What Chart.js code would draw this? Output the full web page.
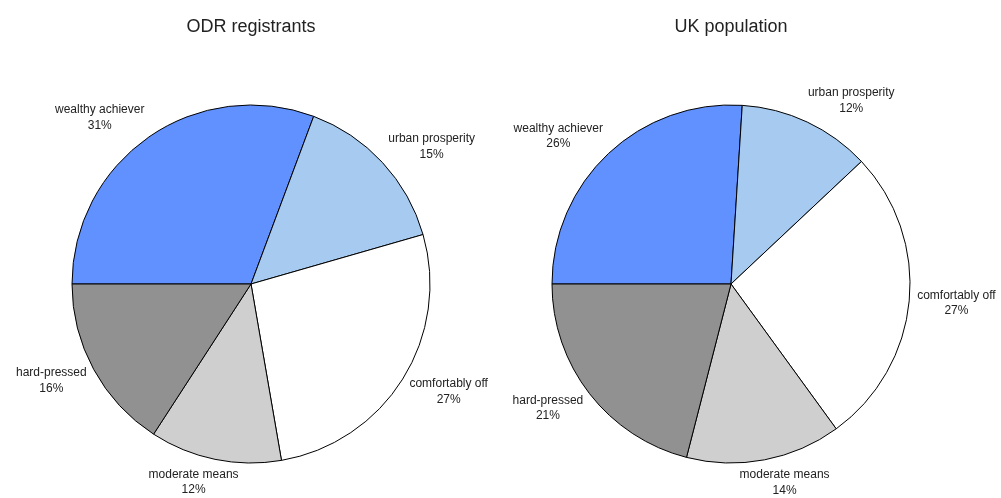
<!DOCTYPE html>
<html>
<head>
<meta charset="utf-8">
<script src="https://cdn.jsdelivr.net/npm/chart.js@4/dist/chart.umd.min.js"></script>
<style>
  html, body { margin: 0; padding: 0; background: #fff; }
  #wrap { position: relative; width: 1001px; height: 498px; overflow: hidden; }
  .pane { position: absolute; top: 0; height: 498px; }
</style>
</head>
<body>
<div id="wrap">
  <div class="pane" style="left:0;width:500px"><canvas id="odrChart"></canvas></div>
  <div class="pane" style="left:500px;width:501px"><canvas id="ukChart"></canvas></div>
</div>
<script>
// Datos
const categories = ['wealthy achiever', 'urban prosperity', 'comfortably off', 'moderate means', 'hard-pressed'];
const odrShares = [31, 15, 27, 12, 16];
const ukShares = [26, 12, 27, 14, 21];
const sliceColors = ['#6191ff', '#a6caf0', '#ffffff', '#cfcfcf', '#919191'];

// Títulos y etiquetas de cada sector
const pieText = {
    id: 'pieText',
    afterDraw(chart, args, opts) {
        const ctx = chart.ctx;
        const meta = chart.getDatasetMeta(0);
        const values = chart.data.datasets[0].data;
        ctx.save();
        ctx.fillStyle = '#222';
        ctx.textAlign = 'center';
        ctx.textBaseline = 'middle';

        // título
        const first = meta.data[0];
        ctx.font = '18px "Liberation Sans", Arial, sans-serif';
        ctx.fillText(opts.title, first.x, 27);

        // etiquetas
        ctx.font = '12px "Liberation Sans", Arial, sans-serif';
        const lineH = 15.5;
        meta.data.forEach((arc, i) => {
            const mid = (arc.startAngle + arc.endAngle) / 2;
            const c = Math.cos(mid), s = Math.sin(mid);
            const r = arc.outerRadius + 8;
            const ax = arc.x + r * c;
            const ay = arc.y + r * s;
            const lines = [chart.data.labels[i], values[i] + '%'];
            const w = Math.max(...lines.map(t => ctx.measureText(t).width));
            const h = lineH * lines.length;
            const k = Math.max(-1, Math.min(1, c * 2.2));
            const cx = ax + (w / 2) * k;
            const cy = ay + (h / 2) * s;
            lines.forEach((t, j) => {
                ctx.fillText(t, cx, cy + (j - (lines.length - 1) / 2) * lineH);
            });
        });
        ctx.restore();
    }
};

function makePie(canvasId, title, values, padding) {
    const ctx = document.getElementById(canvasId).getContext('2d');
    return new Chart(ctx, {
        type: 'pie',
        data: {
            labels: categories,
            datasets: [{
                data: values,
                backgroundColor: sliceColors,
                borderColor: '#000',
                borderWidth: 1
            }]
        },
        options: {
            responsive: true,
            maintainAspectRatio: false,
            animation: false,
            rotation: -90,
            radius: 179,
            layout: { padding: padding },
            plugins: {
                legend: { display: false },
                tooltip: { enabled: false },
                pieText: { title: title }
            }
        },
        plugins: [pieText]
    });
}

const odrChart = makePie('odrChart', 'ODR registrants', odrShares, { left: 72, right: 70, top: 105, bottom: 35 });
const ukChart = makePie('ukChart', 'UK population', ukShares, { left: 52, right: 91, top: 105, bottom: 35 });
</script>
</body>
</html>
